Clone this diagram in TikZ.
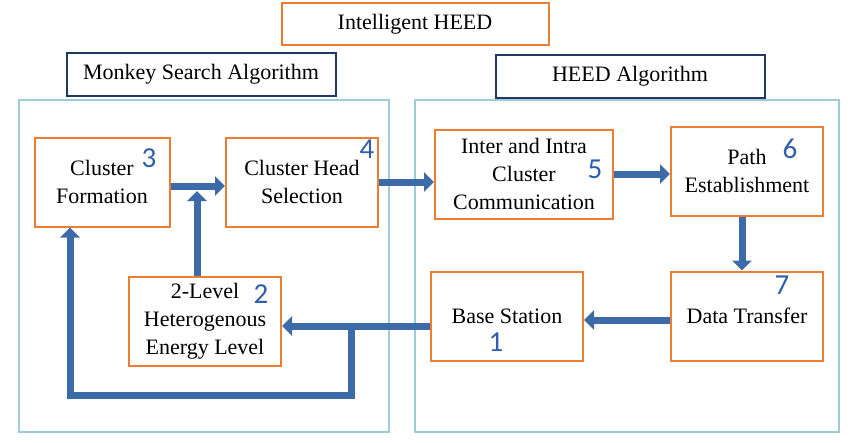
\documentclass[tikz,border=0pt]{standalone}
\usepackage{fontspec}
\setmainfont{Liberation Serif}
\newfontfamily\numfont{Carlito}
\usetikzlibrary{arrows.meta}
\definecolor{boxorange}{HTML}{ED7D31}
\definecolor{headnavy}{HTML}{1F3864}
\definecolor{panelblue}{HTML}{9DCBDA}
\definecolor{flowblue}{HTML}{3D6BA8}
\definecolor{numblue}{HTML}{2F5DAF}

\begin{document}
\begin{tikzpicture}[x=1pt, y=-1pt, node distance=200pt,
  box/.style={draw=boxorange, line width=2pt, minimum width=152pt, minimum height=89pt, align=center, inner sep=2pt, font=\fontsize{22}{28}\selectfont},
  head/.style={draw=headnavy, line width=2pt, minimum width=269pt, minimum height=43pt, font=\fontsize{22}{26}\selectfont},
  num/.style={text=numblue, inner sep=0pt, font=\numfont\fontsize{29}{30}\selectfont},
  flow/.style={draw=flowblue, line width=7pt, -{Triangle[width=19pt, length=10pt]}},
  panel/.style={draw=panelblue, line width=1.2pt}]
\useasboundingbox (0,0) rectangle (850,442);
\draw[panel] (19,100) rectangle (389,432);
\draw[panel] (415,100) rectangle (839,432);
\node[head, draw=boxorange, minimum width=267pt, minimum height=42pt](ih) at (415,24) {Intelligent HEED};
\node[head](msa) at (201,74) {Monkey Search Algorithm};
\node[head](heed) at (630,76) {HEED Algorithm};
\node[box, minimum width=135pt](cf) at (102,182) {Cluster\\Formation};
\node[box](chs)[right of = cf] {Cluster Head\\Selection};
\node[box, minimum width=178pt](iic)[right of = chs, xshift=22pt, yshift=8pt] {Inter and Intra\\Cluster\\Communication};
\node[box](pe)[right of = iic, xshift=23pt, yshift=3pt] {Path\\Establishment};
\node[box](dt)[below of = pe, yshift=55pt] {Data Transfer};
\node[box](bs)[left of = dt, xshift=-40pt] {Base Station};
\node[box](lvl)[left of = bs, xshift=-102pt, yshift=-5pt] {2-Level\\Heterogenous\\Energy Level};
\node[num](n1) at (496,342) {1};
\node[num](n2) at (261,294) {2};
\node[num](n3) at (149,158) {3};
\node[num](n4) at (367,149) {4};
\node[num](n5) at (595,169) {5};
\node[num](n6) at (790,149) {6};
\node[num](n7) at (782,285) {7};
\coordinate (jn) at (351,326);
\coordinate (bot) at (70,395);
\coordinate (meet) at (197,191);
\draw[flow] ([xshift=-8pt]lvl.north) -- (meet);
\draw[flow] ([yshift=-4pt]cf.east) -- ([yshift=-4pt]cf.east -| chs.west);
\draw[flow] (chs.east) -- (chs.east -| iic.west);
\draw[flow] (iic.east) -- (iic.east -| pe.west);
\draw[flow] ([xshift=-5pt]pe.south) -- ([xshift=-5pt]pe.south |- dt.north);
\draw[flow] ([yshift=-4pt]dt.west) -- ([yshift=-4pt]dt.west -| bs.east);
\draw[flow] ([yshift=-10pt]bs.west) -- ([yshift=-5pt]lvl.east);
\draw[flow] (jn) |- (bot) -- (bot |- cf.south);
\end{tikzpicture}
\end{document}
